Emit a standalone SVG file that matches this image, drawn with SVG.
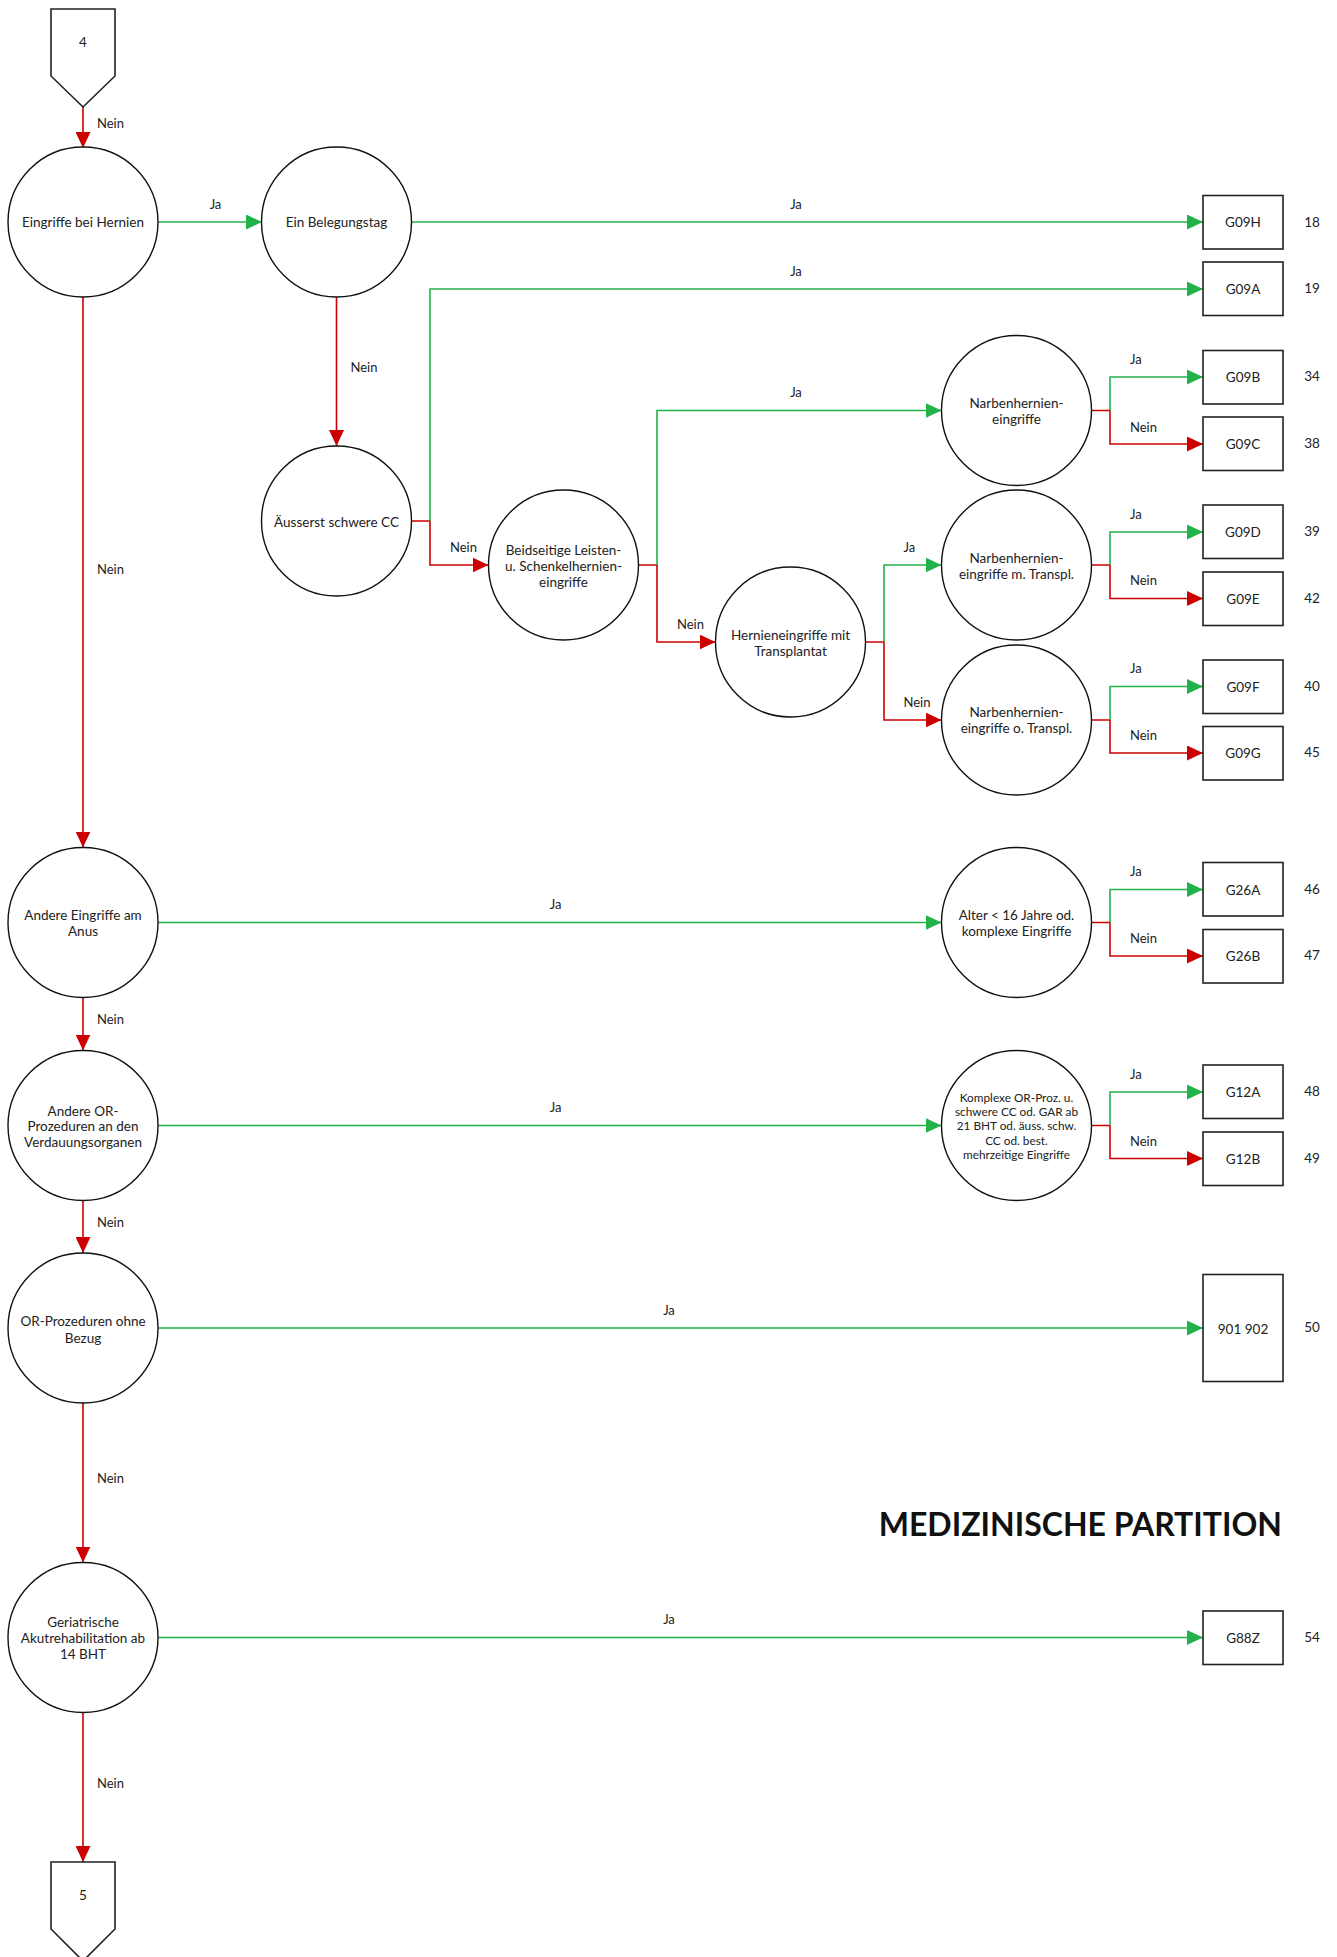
<svg xmlns="http://www.w3.org/2000/svg" width="1337" height="1957" viewBox="0 0 1337 1957">
<style>
text{font-family:Lato,"Noto Sans","Liberation Sans",sans-serif;fill:#222}
.c{fill:#fff;stroke:#111;stroke-width:1.4}
.b{fill:#fff;stroke:#222;stroke-width:1.6}
.t{font-size:13.5px;text-anchor:middle}
.ts{font-size:11.8px;text-anchor:middle}
.bt{font-size:13.5px;text-anchor:middle}
.n{font-size:13.5px;text-anchor:middle}
.l{font-size:13px}
.lm{font-size:13px;text-anchor:middle}
.g{fill:none;stroke:#22b24a;stroke-width:1.6}
.r{fill:none;stroke:#cc0000;stroke-width:1.6}
.ga{marker-end:url(#ag)}
.ra{marker-end:url(#ar)}
</style>
<defs>
<marker id="ag" markerUnits="userSpaceOnUse" markerWidth="16" markerHeight="15" refX="16" refY="7.5" orient="auto"><path d="M0,0 L16,7.5 L0,15 Z" fill="#22b24a"/></marker>
<marker id="ar" markerUnits="userSpaceOnUse" markerWidth="16" markerHeight="15" refX="16" refY="7.5" orient="auto"><path d="M0,0 L16,7.5 L0,15 Z" fill="#cc0000"/></marker>
</defs>
<rect width="1337" height="1957" fill="#fff"/>

<g id="connectors">
<path class="r ra" d="M83,107 V148"/>
<path class="g ga" d="M158,222 H262"/>
<path class="g ga" d="M411.5,222 H1203"/>
<path class="r ra" d="M336.5,297 V446"/>
<path class="r ra" d="M83,297 V847.5"/>
<path class="r ra" d="M411.5,521 H430 V565 H488.5"/>
<path class="g ga" d="M430,521 V289 H1203"/>
<path class="r ra" d="M638.5,565 H657 V642 H715.5"/>
<path class="g ga" d="M657,565 V410.5 H941.5"/>
<path class="r ra" d="M865.5,642 H884 V720 H941.5"/>
<path class="g ga" d="M884,642 V565 H941.5"/>
<path class="r ra" d="M1091.5,410.5 H1110 V444 H1203"/>
<path class="g ga" d="M1110,410.5 V377 H1203"/>
<path class="r ra" d="M1091.5,565 H1110 V598.5 H1203"/>
<path class="g ga" d="M1110,565 V532 H1203"/>
<path class="r ra" d="M1091.5,720 H1110 V753 H1203"/>
<path class="g ga" d="M1110,720 V686.5 H1203"/>
<path class="g ga" d="M158,922.5 H941.5"/>
<path class="r ra" d="M1091.5,922.5 H1110 V956 H1203"/>
<path class="g ga" d="M1110,922.5 V889.5 H1203"/>
<path class="r ra" d="M83,997.5 V1050.5"/>
<path class="g ga" d="M158,1125.5 H941.5"/>
<path class="r ra" d="M1091.5,1125.5 H1110 V1158.5 H1203"/>
<path class="g ga" d="M1110,1125.5 V1092 H1203"/>
<path class="r ra" d="M83,1200.5 V1253"/>
<path class="g ga" d="M158,1328 H1203"/>
<path class="r ra" d="M83,1403 V1562.5"/>
<path class="g ga" d="M158,1637.5 H1203"/>
<path class="r ra" d="M83,1712.5 V1862"/>
<text class="l" x="97" y="127.5">Nein</text>
<text class="lm" x="215.5" y="208.5">Ja</text>
<text class="lm" x="796" y="208.5">Ja</text>
<text class="lm" x="796" y="275.5">Ja</text>
<text class="lm" x="796" y="396.5">Ja</text>
<text class="l" x="350.5" y="372">Nein</text>
<text class="l" x="97" y="573.5">Nein</text>
<text class="l" x="450" y="551.5">Nein</text>
<text class="l" x="677" y="628.5">Nein</text>
<text class="l" x="903.5" y="551.5">Ja</text>
<text class="l" x="903.5" y="706.5">Nein</text>
<text class="l" x="1130" y="363.5">Ja</text>
<text class="l" x="1130" y="431.5">Nein</text>
<text class="l" x="1130" y="518.5">Ja</text>
<text class="l" x="1130" y="584.5">Nein</text>
<text class="l" x="1130" y="672.5">Ja</text>
<text class="l" x="1130" y="739.8">Nein</text>
<text class="lm" x="555.6" y="908.5">Ja</text>
<text class="l" x="1130" y="875.8">Ja</text>
<text class="l" x="1130" y="942.8">Nein</text>
<text class="l" x="97" y="1023.8">Nein</text>
<text class="lm" x="555.6" y="1111.8">Ja</text>
<text class="l" x="1130" y="1078.8">Ja</text>
<text class="l" x="1130" y="1146">Nein</text>
<text class="l" x="97" y="1226.8">Nein</text>
<text class="lm" x="669" y="1315.2">Ja</text>
<text class="l" x="97" y="1482.5">Nein</text>
<text class="lm" x="669" y="1623.8">Ja</text>
<text class="l" x="97" y="1787.5">Nein</text>
</g>

<g id="start4"><polygon class="b" points="51,9 115,9 115,76 83,107 51,76"/><text class="t" x="83" y="46.5">4</text></g>
<g id="end5"><polygon class="b" points="51,1862 115,1862 115,1929 83,1961 51,1929"/><text class="t" x="83" y="1899.5">5</text></g>

<g id="n-hernien"><circle class="c" cx="83" cy="222" r="75"/><text class="t" x="83" y="227">Eingriffe bei Hernien</text></g>
<g id="n-belegungstag"><circle class="c" cx="336.5" cy="222" r="75"/><text class="t" x="336.5" y="227">Ein Belegungstag</text></g>
<g id="n-cc"><circle class="c" cx="336.5" cy="521" r="75"/><text class="t" x="336.5" y="526.5">Äusserst schwere CC</text></g>
<g id="n-beidseitig"><circle class="c" cx="563.5" cy="565" r="75"/><text class="t" x="563.5" y="554.5">Beidseitige Leisten-</text><text class="t" x="563.5" y="571">u. Schenkelhernien-</text><text class="t" x="563.5" y="587">eingriffe</text></g>
<g id="n-transplantat"><circle class="c" cx="790.5" cy="642" r="75"/><text class="t" x="790.5" y="639.5">Hernieneingriffe mit</text><text class="t" x="790.5" y="655.5">Transplantat</text></g>
<g id="n-narben"><circle class="c" cx="1016.5" cy="410.5" r="75"/><text class="t" x="1016.5" y="407.5">Narbenhernien-</text><text class="t" x="1016.5" y="423.5">eingriffe</text></g>
<g id="n-narben-m"><circle class="c" cx="1016.5" cy="565" r="75"/><text class="t" x="1016.5" y="563">Narbenhernien-</text><text class="t" x="1016.5" y="579">eingriffe m. Transpl.</text></g>
<g id="n-narben-o"><circle class="c" cx="1016.5" cy="720" r="75"/><text class="t" x="1016.5" y="716.8">Narbenhernien-</text><text class="t" x="1016.5" y="732.8">eingriffe o. Transpl.</text></g>
<g id="n-anus"><circle class="c" cx="83" cy="922.5" r="75"/><text class="t" x="83" y="920.2">Andere Eingriffe am</text><text class="t" x="83" y="935.8">Anus</text></g>
<g id="n-alter"><circle class="c" cx="1016.5" cy="922.5" r="75"/><text class="t" x="1016.5" y="919.8">Alter &lt; 16 Jahre od.</text><text class="t" x="1016.5" y="935.5">komplexe Eingriffe</text></g>
<g id="n-verdauung"><circle class="c" cx="83" cy="1125.5" r="75"/><text class="t" x="83" y="1115.5">Andere OR-</text><text class="t" x="83" y="1131.2">Prozeduren an den</text><text class="t" x="83" y="1147.2">Verdauungsorganen</text></g>
<g id="n-komplexe"><circle class="c" cx="1016.5" cy="1125.5" r="75"/><text class="ts" x="1016.5" y="1101.7">Komplexe OR-Proz. u.</text><text class="ts" x="1016.5" y="1116">schwere CC od. GAR ab</text><text class="ts" x="1016.5" y="1130">21 BHT od. äuss. schw.</text><text class="ts" x="1016.5" y="1144.7">CC od. best.</text><text class="ts" x="1016.5" y="1158.7">mehrzeitige Eingriffe</text></g>
<g id="n-ohnebezug"><circle class="c" cx="83" cy="1328" r="75"/><text class="t" x="83" y="1326.2">OR-Prozeduren ohne</text><text class="t" x="83" y="1342.5">Bezug</text></g>
<g id="n-geriatrisch"><circle class="c" cx="83" cy="1637.5" r="75"/><text class="t" x="83" y="1626.8">Geriatrische</text><text class="t" x="83" y="1643.2">Akutrehabilitation ab</text><text class="t" x="83" y="1658.8">14 BHT</text></g>

<g id="r-g09h"><rect class="b" x="1203" y="195.5" width="80" height="53.5"/><text class="bt" x="1243" y="227">G09H</text><text class="n" x="1312" y="227">18</text></g>
<g id="r-g09a"><rect class="b" x="1203" y="262" width="80" height="53.5"/><text class="bt" x="1243" y="294">G09A</text><text class="n" x="1312" y="293">19</text></g>
<g id="r-g09b"><rect class="b" x="1203" y="350.5" width="80" height="53.5"/><text class="bt" x="1243" y="382">G09B</text><text class="n" x="1312" y="381">34</text></g>
<g id="r-g09c"><rect class="b" x="1203" y="417" width="80" height="53.5"/><text class="bt" x="1243" y="448.5">G09C</text><text class="n" x="1312" y="448">38</text></g>
<g id="r-g09d"><rect class="b" x="1203" y="505" width="80" height="53.5"/><text class="bt" x="1243" y="536.5">G09D</text><text class="n" x="1312" y="536">39</text></g>
<g id="r-g09e"><rect class="b" x="1203" y="572" width="80" height="53.5"/><text class="bt" x="1243" y="603.5">G09E</text><text class="n" x="1312" y="603">42</text></g>
<g id="r-g09f"><rect class="b" x="1203" y="660" width="80" height="53.5"/><text class="bt" x="1243" y="691.5">G09F</text><text class="n" x="1312" y="691">40</text></g>
<g id="r-g09g"><rect class="b" x="1203" y="726.5" width="80" height="53.5"/><text class="bt" x="1243" y="758">G09G</text><text class="n" x="1312" y="757">45</text></g>
<g id="r-g26a"><rect class="b" x="1203" y="862.5" width="80" height="53.5"/><text class="bt" x="1243" y="894.5">G26A</text><text class="n" x="1312" y="894">46</text></g>
<g id="r-g26b"><rect class="b" x="1203" y="929.5" width="80" height="53.5"/><text class="bt" x="1243" y="961">G26B</text><text class="n" x="1312" y="960">47</text></g>
<g id="r-g12a"><rect class="b" x="1203" y="1065" width="80" height="53.5"/><text class="bt" x="1243" y="1097">G12A</text><text class="n" x="1312" y="1096">48</text></g>
<g id="r-g12b"><rect class="b" x="1203" y="1132" width="80" height="53.5"/><text class="bt" x="1243" y="1164">G12B</text><text class="n" x="1312" y="1163">49</text></g>
<g id="r-901"><rect class="b" x="1203" y="1274.5" width="80" height="107"/><text class="bt" x="1243" y="1333.5">901 902</text><text class="n" x="1312" y="1332">50</text></g>
<g id="r-g88z"><rect class="b" x="1203" y="1611" width="80" height="53.5"/><text class="bt" x="1243" y="1642.5">G88Z</text><text class="n" x="1312" y="1642">54</text></g>

<text x="1282" y="1535.5" style="font-size:32px;font-weight:bold;text-anchor:end;fill:#111">MEDIZINISCHE PARTITION</text>
</svg>
